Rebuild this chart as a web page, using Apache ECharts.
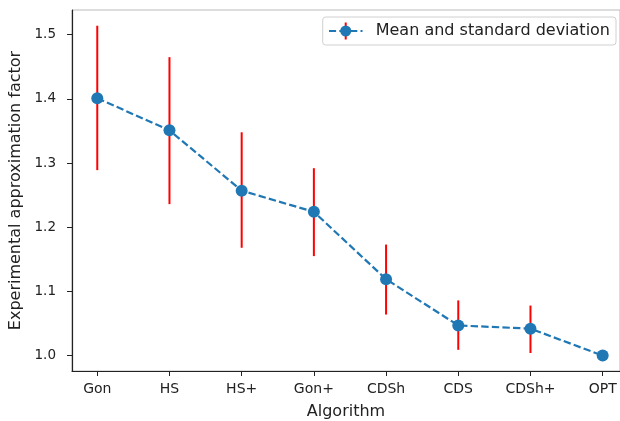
<!DOCTYPE html>
<html>
<head>
<meta charset="utf-8">
<script src="https://cdn.jsdelivr.net/npm/echarts@6/dist/echarts.min.js"></script>
<style>
  html, body { margin: 0; padding: 0; background: #fff; }
  #main { width: 620px; height: 421px; }
</style>
</head>
<body>
<div id="main"></div>
<script>
// 算法名称
var algorithms = ['Gon', 'HS', 'HS+', 'Gon+', 'CDSh', 'CDS', 'CDSh+', 'OPT'];
// 平均值
var means = [1.401, 1.351, 1.257, 1.224, 1.119, 1.047, 1.042, 1.000];
// 误差线上下端
var upper = [1.514, 1.465, 1.348, 1.292, 1.173, 1.086, 1.078, 1.000];
var lower = [1.289, 1.236, 1.168, 1.155, 1.064, 1.009, 1.004, 1.000];
var yTicks = [1.0, 1.1, 1.2, 1.3, 1.4, 1.5];
var xTicks = [0, 1, 2, 3, 4, 5, 6, 7];

var font = 'DejaVu Sans';

// 图例图标：虚线 + 圆点 + 红色误差线
var legendIcon = 'image://data:image/svg+xml;utf8,' + encodeURIComponent(
    '<svg xmlns="http://www.w3.org/2000/svg" width="34" height="18" viewBox="0 0 34 18">' +
    '<line x1="0" y1="9" x2="34" y2="9" stroke="#1f77b4" stroke-width="2" stroke-dasharray="7.4,3.2"/>' +
    '<line x1="17" y1="0.5" x2="17" y2="17.5" stroke="#ff0000" stroke-width="2"/>' +
    '<circle cx="17" cy="9" r="5.5" fill="#1f77b4"/>' +
    '</svg>');

var lineData = [];
var errData = [];
algorithms.forEach(function (name, i) {
    lineData.push([i, means[i]]);
    errData.push([i, lower[i], upper[i]]);
});

var myChart = echarts.init(document.getElementById('main'));
var option = {
    animation: false,
    textStyle: { fontFamily: font },
    grid: {
        left: 72,
        right: 0,
        top: 10,
        bottom: 50,
        outerBoundsMode: 'none',
        show: true,
        borderColor: '#bbbbbb',
        borderWidth: 1
    },
    legend: {
        right: 4,
        top: 17,
        itemWidth: 34,
        itemHeight: 18,
        padding: [5, 6, 5, 6],
        borderColor: '#d0d0d0',
        borderWidth: 1,
        borderRadius: 3,
        textStyle: { fontSize: 16, color: '#222', fontFamily: font, padding: [0, 0, 0, 8] },
        data: [{ name: 'Mean and standard deviation', icon: legendIcon }]
    },
    xAxis: {
        type: 'value',
        min: -0.35,
        max: 7.24,
        name: 'Algorithm',
        nameLocation: 'middle',
        nameGap: 33,
        nameTextStyle: { fontSize: 16, color: '#222' },
        splitLine: { show: false },
        axisLine: { onZero: false, lineStyle: { color: '#222', width: 1.2 } },
        axisTick: { show: true, length: 5, customValues: xTicks, lineStyle: { color: '#222' } },
        axisLabel: {
            customValues: xTicks,
            fontSize: 14,
            color: '#222',
            margin: 11,
            formatter: function (v) { return algorithms[Math.round(v)]; }
        }
    },
    yAxis: {
        type: 'value',
        min: 0.976,
        max: 1.5385,
        name: 'Experimental approximation factor',
        nameLocation: 'middle',
        nameGap: 44,
        nameTextStyle: { fontSize: 16, color: '#222' },
        splitLine: { show: false },
        axisLine: { show: true, onZero: false, lineStyle: { color: '#222', width: 1.2 } },
        axisTick: { show: true, length: 5, customValues: yTicks, lineStyle: { color: '#222' } },
        axisLabel: {
            customValues: yTicks,
            fontSize: 13.5,
            color: '#222',
            margin: 16,
            formatter: function (v) { return v.toFixed(1); }
        }
    },
    series: [
        {
            name: 'std',
            type: 'custom',
            z: 2,
            renderItem: function (params, api) {
                var top = api.coord([api.value(0), api.value(2)]);
                var bottom = api.coord([api.value(0), api.value(1)]);
                return {
                    type: 'line',
                    shape: { x1: top[0], y1: top[1], x2: bottom[0], y2: bottom[1] },
                    style: { stroke: '#ff0000', lineWidth: 2 }
                };
            },
            encode: { x: 0, y: [1, 2] },
            data: errData
        },
        {
            name: 'Mean and standard deviation',
            type: 'line',
            z: 3,
            symbol: 'circle',
            symbolSize: 12,
            itemStyle: { color: '#1f77b4' },
            lineStyle: { color: '#1f77b4', width: 2.2, type: [7.4, 3.2] },
            data: lineData
        }
    ]
};
myChart.setOption(option);
</script>
</body>
</html>
